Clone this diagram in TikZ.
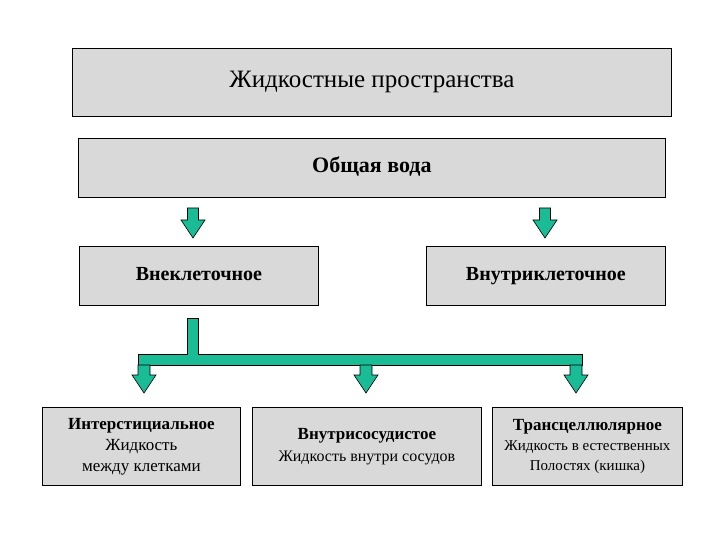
\documentclass[tikz,border=0pt]{standalone}
\usepackage{fontspec}
\setmainfont{Liberation Serif}
\definecolor{boxgray}{RGB}{217,217,217}
\definecolor{arrgreen}{RGB}{26,188,150}
\begin{document}
\begin{tikzpicture}[x=1pt,y=-1pt,
  box/.style={draw=black,line width=0.8pt,fill=boxgray,anchor=north west,inner sep=0pt,align=center},
  garrow/.style={draw=black,line width=0.6pt,fill=arrgreen,line join=miter}]
\useasboundingbox (0,0) rectangle (720,540);
\newcommand{\boxat}[7]{\node[box,minimum width=#4-#2,minimum height=#5-#3,font=#6] (#1) at (#2,#3) {#7};}
\boxat{top}{72}{48}{671}{116}{\fontsize{25}{28}\selectfont}{\strut Жидкостные пространства}
\boxat{total}{78}{138}{665}{197}{\fontsize{22}{24}\selectfont\bfseries}{\strut Общая вода}
\boxat{extra}{79}{246}{318}{305}{\fontsize{20}{24}\selectfont\bfseries}{\strut Внеклеточное}
\boxat{intra}{426}{246}{665}{305}{\fontsize{20}{24}\selectfont\bfseries}{\strut Внутриклеточное}
\boxat{inter}{42}{407}{240}{485}{\fontsize{17}{21}\selectfont}{\textbf{Интерстициальное}\\Жидкость\\между клетками}
\boxat{vasc}{252}{407}{481}{485}{\fontsize{17}{22}\selectfont}{\textbf{Внутрисосудистое}\\\fontsize{16}{20}\selectfont Жидкость внутри сосудов}
\boxat{trans}{492}{407}{682}{485}{\fontsize{17}{20}\selectfont}{\textbf{Трансцеллюлярное}\\\fontsize{15}{19}\selectfont Жидкость в естественных\\\fontsize{15}{19}\selectfont Полостях (кишка)}
% down arrows: center x, top y
\newcommand{\darrow}[2]{\draw[garrow] (#1-5.5,#2) -- (#1+5.5,#2) -- (#1+5.5,#2+12) -- (#1+12,#2+12) -- (#1,#2+30) -- (#1-12,#2+12) -- (#1-5.5,#2+12) -- cycle;}
\darrow{193}{208}
\darrow{545}{208}
% branching connector
\draw[garrow] (187,318) -- (198,318) -- (198,354) -- (582,354) -- (582,365) -- (138,365) -- (138,354) -- (187,354) -- cycle;
\newcommand{\sarrow}[2]{\draw[garrow] (#1-6,#2) -- (#1+6,#2) -- (#1+6,#2+10) -- (#1+12,#2+10) -- (#1,#2+28) -- (#1-12,#2+10) -- (#1-6,#2+10) -- cycle;}
\sarrow{144}{365}
\sarrow{366}{365}
\sarrow{576}{365}
\end{tikzpicture}
\end{document}
